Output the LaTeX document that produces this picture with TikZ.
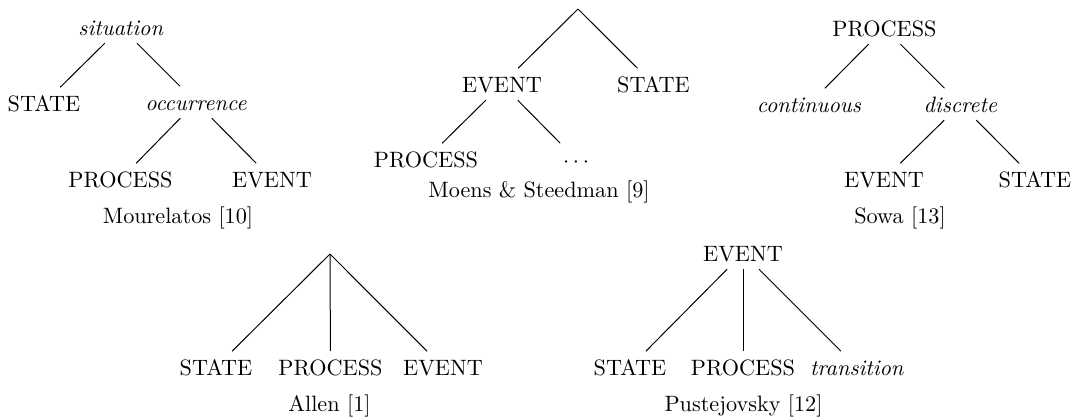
\documentclass[tikz,border=0pt]{standalone}
\begin{document}
\begin{tikzpicture}[x=0.45pt,y=-0.45pt,
  lbl/.style={anchor=base,text height=7pt,text depth=0pt,inner ysep=3.5pt,inner xsep=2pt},
  captext/.style={anchor=base,inner sep=0pt},
  conn/.style={line width=0.45pt}]
\useasboundingbox (0,0) rectangle (1083,418);
% Mourelatos
\node[lbl] (m0) at (121,35) {\textit{situation}};
\node[lbl] (m1) at (44,111) {STATE};
\node[lbl] (m2) at (196,110) {\textit{occurrence}};
\node[lbl] (m3) at (120.5,187) {PROCESS};
\node[lbl] (m4) at (272,187) {EVENT};
\node[captext] (mc) at (178,223) {Mourelatos [10]};
\draw[conn] (m0) -- (m1);
\draw[conn] (m0) -- (m2);
\draw[conn] (m2) -- (m3);
\draw[conn] (m2) -- (m4);
% Moens & Steedman
\coordinate (s0) at (578,9);
\node[lbl] (s1) at (502,92) {EVENT};
\node[lbl] (s2) at (653.5,92) {STATE};
\node[lbl] (s3) at (426,167) {PROCESS};
\node[lbl] (s4) at (576,167) {$\cdots$};
\node[captext] (sc) at (539,197) {Moens \& Steedman [9]};
\draw[conn] (s0) -- (s1);
\draw[conn] (s0) -- (s2);
\draw[conn] (s1) -- (s3);
\draw[conn] (s1) -- (s4);
% Sowa
\node[lbl] (w0) at (884.5,36) {PROCESS};
\node[lbl] (w1) at (809,112) {\textit{continuous}};
\node[lbl] (w2) at (960.5,112) {\textit{discrete}};
\node[lbl] (w3) at (884,187) {EVENT};
\node[lbl] (w4) at (1035,187) {STATE};
\node[captext] (wc) at (900,223) {Sowa [13]};
\draw[conn] (w0) -- (w1);
\draw[conn] (w0) -- (w2);
\draw[conn] (w2) -- (w3);
\draw[conn] (w2) -- (w4);
% Allen
\coordinate (a0) at (330,254);
\node[lbl] (a1) at (216,375) {STATE};
\node[lbl] (a2) at (330.5,375) {PROCESS};
\node[lbl] (a3) at (443,375) {EVENT};
\node[captext] (ac) at (329.5,411) {Allen [1]};
\draw[conn] (a0) -- (a1);
\draw[conn] (a0) -- (a2);
\draw[conn] (a0) -- (a3);
% Pustejovsky
\node[lbl] (p0) at (743,261) {EVENT};
\node[lbl] (p1) at (630,375) {STATE};
\node[lbl] (p2) at (743,375) {PROCESS};
\node[lbl] (p3) at (857,375) {\textit{transition}};
\node[captext] (pc) at (743.5,411) {Pustejovsky [12]};
\draw[conn] (p0) -- (p1);
\draw[conn] (p0) -- (p2);
\draw[conn] (p0) -- (p3);
\end{tikzpicture}
\end{document}
